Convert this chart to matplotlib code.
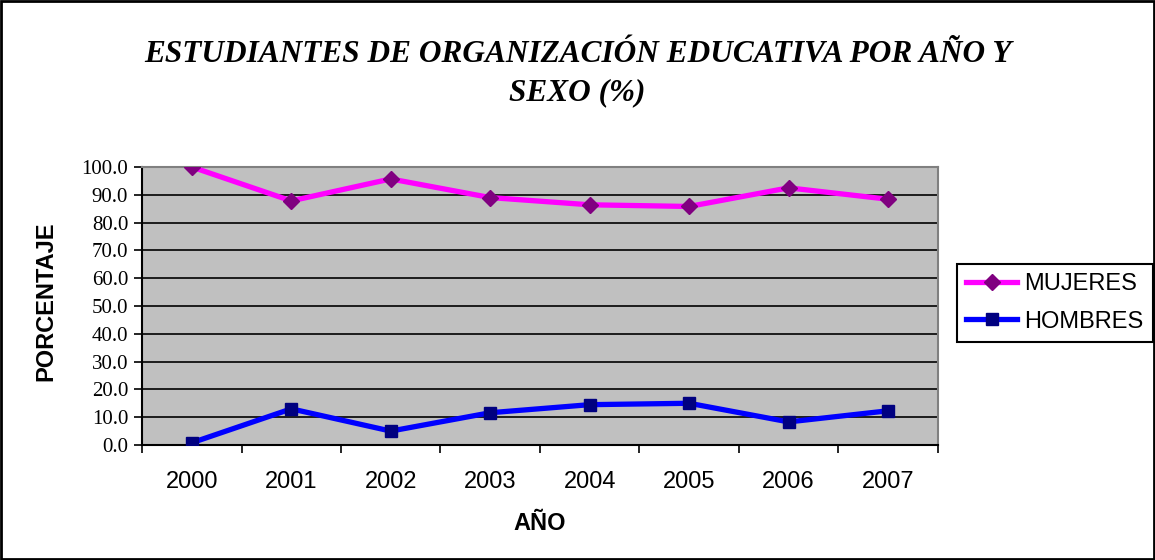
import numpy as np
import matplotlib
matplotlib.use("Agg")
from matplotlib import pyplot as plt
from matplotlib.patches import Rectangle

# datos
anios = ['2000', '2001', '2002', '2003', '2004', '2005', '2006', '2007']
mujeres = [100.0, 87.8, 95.7, 89.0, 86.4, 85.8, 92.5, 88.4]
hombres = [0.8, 13.0, 5.0, 11.6, 14.5, 15.0, 8.3, 12.3]
yticks = np.arange(0, 101, 10)

plt.rcParams['font.family'] = ['Liberation Sans', 'DejaVu Sans']
serif = ['Liberation Serif', 'DejaVu Serif']

fig = plt.figure(figsize=(11.55, 5.6), dpi=100)
fig.patches.append(Rectangle((0.001, 0.002), 0.998, 0.996, transform=fig.transFigure,
                             fill=False, edgecolor='black', linewidth=2))
ax = fig.add_axes([0.123, 0.2054, 0.689, 0.4964])
ax.set_facecolor('#C0C0C0')

x = np.arange(len(anios))
ax.plot(x, mujeres, color='#FF00FF', linewidth=3.8, marker='D', markersize=8.5,
        markerfacecolor='#800080', markeredgecolor='#800080', label='MUJERES', zorder=3)
ax.plot(x, hombres, color='#0000FF', linewidth=3.8, marker='s', markersize=8,
        markerfacecolor='#000080', markeredgecolor='#000080', label='HOMBRES', zorder=3)

ax.set_xlim(-0.5, len(anios) - 0.5)
ax.set_ylim(0, 100)
ax.set_yticks(yticks)
ax.set_yticklabels(['%.1f' % v for v in yticks], fontsize=15, family=serif)
ax.yaxis.grid(True, color='black', linewidth=1.2)
ax.set_axisbelow(True)

ax.set_xticks(np.arange(-0.5, len(anios), 1.0))
ax.set_xticklabels([])
ax.set_xticks(x, minor=True)
ax.set_xticklabels(anios, minor=True, fontsize=17)
ax.tick_params(axis='x', which='major', length=6, width=1.2, direction='out')
ax.tick_params(axis='x', which='minor', length=0, pad=19)
ax.tick_params(axis='y', length=6, width=1.2, direction='out', pad=4)

for s in ['left', 'bottom']:
    ax.spines[s].set_color('black')
    ax.spines[s].set_linewidth(1.5)
for s in ['top', 'right']:
    ax.spines[s].set_color('#808080')
    ax.spines[s].set_linewidth(1.5)

fig.text(540 / 1155, 1 - 523 / 560, 'AÑO', ha='center', va='center',
         fontsize=17, fontweight='bold')
fig.text(46 / 1155, 1 - 301 / 560, 'PORCENTAJE', ha='center', va='center',
         rotation=90, fontsize=17, fontweight='bold')

fig.text(0.50, 0.902, 'ESTUDIANTES DE ORGANIZACIÓN EDUCATIVA POR AÑO Y',
         ha='center', va='center', fontsize=22.5, fontweight='bold', style='italic',
         family=serif)
fig.text(0.50, 0.834, 'SEXO (%)', ha='center', va='center', fontsize=22.5,
         fontweight='bold', style='italic', family=serif)

leg = fig.legend(loc='center left', bbox_to_anchor=(957 / 1155, 1 - 303 / 560), fontsize=17,
                 frameon=True, fancybox=False, borderaxespad=0, handlelength=2.15,
                 handletextpad=0.3, borderpad=0.4, labelspacing=0.65)
leg.get_frame().set_edgecolor('black')
leg.get_frame().set_linewidth(1.5)
leg.get_frame().set_alpha(1)

fig.savefig('out.png', dpi=100)
